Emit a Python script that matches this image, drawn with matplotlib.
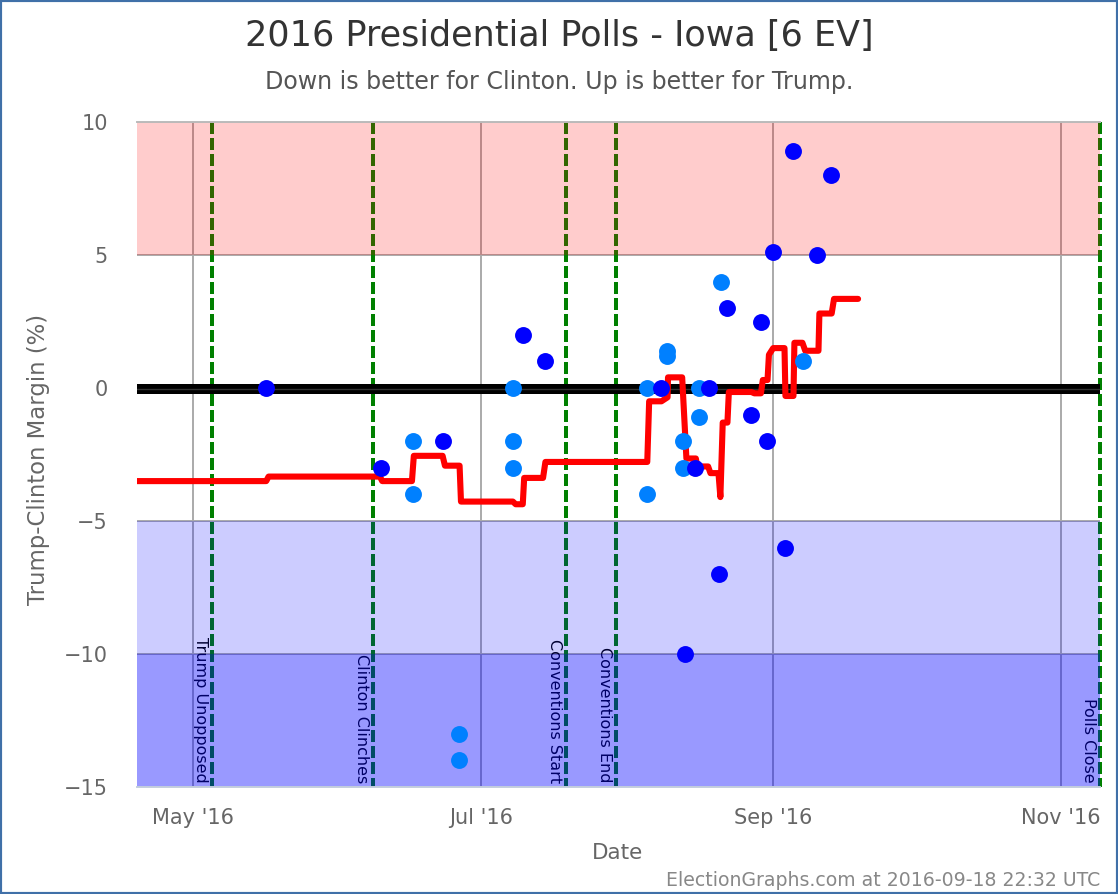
import matplotlib
matplotlib.use('Agg')
import matplotlib.pyplot as plt
import matplotlib.dates as mdates
from matplotlib.patches import Rectangle

W, H = 1118, 894

# all days are counted from 1 May 2016
START = mdates.datestr2num('2016-05-01')

dark_days = [15.5, 39.9, 53, 70, 74.6, 99.2, 104.3, 106.4, 109.4, 111.5, 113.2,
             118.3, 120.4, 121.7, 123, 125.5, 127.2, 132.3, 135.3]
dark_vals = [0, -3, -2, 2, 1, 0, -10, -3, 0, -7, 3,
             -1, 2.5, -2, 5.1, -6, 8.9, 5, 8]

light_days = [46.6, 46.6, 56.4, 56.4, 67.8, 67.8, 67.8, 96.2, 96.2, 100.5, 100.5,
              103.9, 103.9, 107.3, 107.3, 111.9, 129.3]
light_vals = [-2, -4, -13, -14, 0, -2, -3, 0, -4, 1.4, 1.2,
              -2, -3, 0, -1.1, 4, 1]

avg_days = [-11.9, 15.5, 16, 39.6, 40.1, 46.4, 46.8, 52.9, 53.4, 56.5, 56.8, 67.8,
            68.4, 69.9, 70.2, 74.2, 74.7, 96.3, 96.7, 99.3, 100.6, 100.7, 103.7,
            104.6, 106.6, 106.9, 109.2, 109.7, 111.4, 111.8, 112.3, 113.3, 113.6,
            118.4, 119, 120.4, 120.8, 121.8, 122.1, 123, 125.4, 125.6, 127.3, 127.5,
            129.2, 129.8, 132.6, 132.8, 135.4, 135.9, 141]
avg_vals = [-3.5, -3.5, -3.33, -3.33, -3.5, -3.5, -2.55, -2.55, -2.92, -2.92, -4.27, -4.27,
            -4.37, -4.37, -3.38, -3.38, -2.78, -2.78, -0.5, -0.5, -0.35, 0.4, 0.4,
            -2.65, -2.65, -2.95, -2.95, -3.2, -3.2, -4.1, -1.3, -1.3, -0.15,
            -0.15, -0.2, -0.2, 0.3, 0.3, 1.25, 1.5, 1.5, -0.3, -0.3, 1.7,
            1.7, 1.4, 1.4, 2.8, 2.8, 3.35, 3.35]

event_days = [4.05, 38.2, 79, 89.7, 192.3]
event_names = ['Trump Unopposed', 'Clinton Clinches', 'Conventions Start', 'Conventions End', 'Polls Close']

tick_dates = ['2016-05-01', '2016-07-01', '2016-09-01', '2016-11-01']
y_ticks = [-15, -10, -5, 0, 5, 10]

fig = plt.figure(figsize=(W / 100, H / 100), dpi=100)
plt.rcParams['font.family'] = 'DejaVu Sans'
ax = fig.add_axes([137 / W, 1 - 787 / H, 963 / W, 665 / H])

ax.set_xlim(START - 11.9, START + 192.3)
ax.set_ylim(-15, 10)

ax.set_xticks([mdates.datestr2num(d) for d in tick_dates])
ax.xaxis.set_major_formatter(mdates.DateFormatter("%b '%y"))
ax.set_yticks(y_ticks)
ax.tick_params(length=0, labelsize=15, labelcolor='#666666')
ax.tick_params(axis='x', pad=15)
ax.tick_params(axis='y', pad=21)
ax.grid(True, color='#aaaaaa', linewidth=1.4, zorder=1)
ax.set_axisbelow(True)

for s in ['left', 'right']:
    ax.spines[s].set_visible(False)
ax.spines['top'].set_color('#bbbbbb')
ax.spines['bottom'].set_color('#c4cede')
ax.spines['top'].set_linewidth(1.4)
ax.spines['bottom'].set_linewidth(1.4)

# event lines and names sit under the translucent bands
for d, name in zip(event_days, event_names):
    ax.axvline(START + d, ymin=1, ymax=0, color='#008000', linewidth=2.88, dashes=(3, 1),
               zorder=1.5, clip_on=False)
    ax.annotate(name, (START + d, -15), xytext=(-3, 3), textcoords='offset points',
                rotation=270, fontsize=11.5, color='black', ha='right', va='bottom', zorder=1.5)

ax.axhspan(5, 10, color='#ff0000', alpha=0.2, linewidth=0, zorder=2)
ax.axhspan(-10, -5, color='#0000ff', alpha=0.2, linewidth=0, zorder=2)
ax.axhspan(-15, -10, color='#0000ff', alpha=0.4, linewidth=0, zorder=2)

ax.axhline(-0.04, color='#000000', linewidth=7.2, zorder=3)
ax.axhline(-0.04, color='#333333', linewidth=1.0, zorder=3.1)

ax.plot([START + d for d in avg_days], avg_vals, color='#ff0000', linewidth=4.4,
        solid_joinstyle='round', solid_capstyle='round', zorder=4)

ax.scatter([START + d for d in light_days], light_vals, s=148, color='#0080ff', linewidths=0, zorder=5)
ax.scatter([START + d for d in dark_days], dark_vals, s=148, color='#0000ff', linewidths=0, zorder=6)

fig.text(559 / W, 1 - 36 / H, '2016 Presidential Polls - Iowa [6 EV]', fontsize=25.2,
         color='#333333', ha='center', va='center')
fig.text(559 / W, 1 - 82 / H, 'Down is better for Clinton. Up is better for Trump.', fontsize=17.1,
         color='#555555', ha='center', va='center')
fig.text(39 / W, 1 - 459 / H, 'Trump-Clinton Margin (%)', fontsize=16.4, color='#666666',
         rotation=90, ha='center', va='center')
fig.text(618 / W, 1 - 853 / H, 'Date', fontsize=15.5, color='#666666', ha='center', va='center')
fig.text(1100 / W, 1 - 880 / H, 'ElectionGraphs.com at 2016-09-18 22:32 UTC', fontsize=13.6,
         color='#888888', ha='right', va='center')

fig.add_artist(Rectangle((0, 0), 1, 1, transform=fig.transFigure, fill=False,
                         edgecolor='#4070a8', linewidth=3))

fig.savefig('out.png', dpi=100)
